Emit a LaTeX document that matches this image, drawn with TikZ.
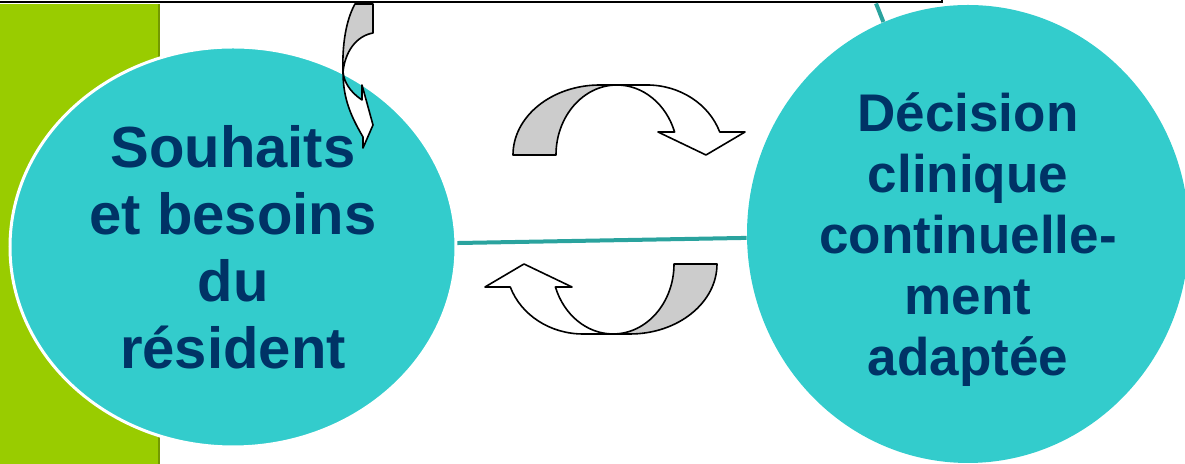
\documentclass[tikz,border=0pt]{standalone}
\usepackage{fontspec}
\usepackage{tikz}
\usetikzlibrary{shapes.geometric}
\setmainfont{Liberation Sans}
\definecolor{limec}{HTML}{99CC00}
\definecolor{tealc}{HTML}{33CCCC}
\definecolor{navyc}{HTML}{003366}
\definecolor{linkc}{HTML}{2AA39E}
\definecolor{bandc}{HTML}{CCCCCC}
\tikzset{
  bubble/.style={ellipse,fill=tealc,inner sep=0pt,align=center,text=navyc},
  link/.style={linkc,line width=2pt},
  band/.style={draw=black,line width=0.8pt,line join=round}
}
\newcommand{\turnarrow}[1]{%
  \begin{scope}[#1]
    \filldraw[band,fill=bandc] (513,309) arc[start angle=180,end angle=90,x radius=87,y radius=70]
      -- (617,379) arc[start angle=90,end angle=180,x radius=61,y radius=70] -- cycle;
    \filldraw[band,fill=white] (617,379) -- (647,379)
      arc[start angle=90,end angle=19.2,x radius=77,y radius=70]
      -- (745,332) -- (706,309) -- (658,332) -- (674.6,332)
      arc[start angle=19.2,end angle=90,x radius=61,y radius=70] -- cycle;
  \end{scope}}

\begin{document}
\begin{tikzpicture}[x=0.5pt,y=0.5pt]
\useasboundingbox (0,0) rectangle (1185,464);
\clip (0,0) rectangle (1185,464);
\fill[limec] (0,0) rectangle (159,460);
\draw[limec!75!black,line width=0.6pt] (159,0) -- (159,460);
\node[bubble,draw=white,line width=1.5pt,minimum width=223pt,minimum height=200pt,
  font=\bfseries\fontsize{29}{33.5}\selectfont] (res) at (233,217)
  {Souhaits\\et besoins\\du\\résident};
\node[bubble,minimum width=221pt,minimum height=229pt,text depth=0pt,
  font=\bfseries\fontsize{26.5}{30.5}\selectfont] (dec) at (968,230)
  {Décision\\clinique\\continuelle-\\ment\\adaptée};
\node[draw,line width=1pt,anchor=south east,minimum width=480pt,minimum height=40pt] (panel) at (943,460.5) {};
\coordinate (tap) at (876,460.5);
\draw[link] (tap) -- (dec);
\draw[link] (res) -- (dec);
% exchange arrows
\turnarrow{}
\turnarrow{rotate around={180:(615,254.5)}}
% small arrow from the panel
\filldraw[band,fill=bandc] (355,460) -- (373,460) -- (373,431)
  .. controls (356,428) and (345,412) .. (343,392)
  .. controls (342,419) and (346,444) .. (355,460) -- cycle;
\filldraw[band,fill=white] (343,392) .. controls (343,364) and (352,346) .. (363,327)
  -- (363,316) -- (373,339) -- (362,379) -- (362,364)
  .. controls (350,372) and (344,382) .. (343,392) -- cycle;
\end{tikzpicture}
\end{document}
